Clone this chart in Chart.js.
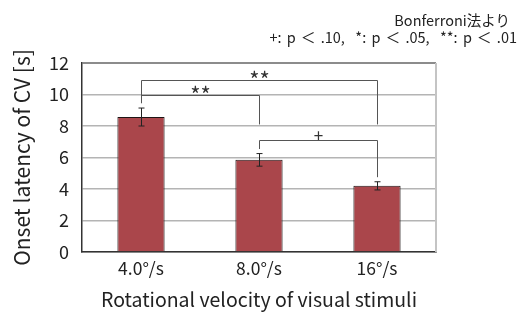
<!DOCTYPE html>
<html>
<head>
<meta charset="utf-8">
<script src="https://cdn.jsdelivr.net/npm/chart.js@4.4.1/dist/chart.umd.min.js"></script>
<style>
  html, body { margin: 0; padding: 0; background: #fff; }
  #wrap { position: relative; width: 526px; height: 315px; }
  .note { position: absolute; font-family: "Noto Sans CJK JP", "Noto Sans", sans-serif; font-size: 14.5px; color: #222; white-space: nowrap; }
</style>
</head>
<body>
<div id="wrap">
  <canvas id="c" width="526" height="315"></canvas>
  <div class="note" style="right:16px; top:9px;">Bonferroni法より</div>
  <div class="note" style="right:9px; top:26px; word-spacing:2px;">+: p ＜ .10,&nbsp; *: p ＜ .05,&nbsp; **: p ＜ .01</div>
</div>
<script>
// === DATA ===
const labels = ['4.0°/s', '8.0°/s', '16°/s'];
const means = [8.57, 5.85, 4.2];
const errors = [0.57, 0.4, 0.26];
const yTicks = [0, 2, 4, 6, 8, 10, 12];

// brackets: [from, to, level, leftEnd, rightEnd, mark]
const brackets = [
  [0, 2, 10.92, 9.45, 8.1, '**'],
  [0, 1, 9.97, 9.45, 8.1, '**'],
  [1, 2, 7.11, 6.54, 4.75, '+']
];

const font = '"Noto Sans CJK JP", "Noto Sans", sans-serif';

// error bars
const errorBars = {
  id: 'errorBars',
  afterDatasetsDraw(chart) {
    const { ctx, scales: { x, y } } = chart;
    ctx.save();
    ctx.strokeStyle = '#222';
    ctx.lineWidth = 1;
    means.forEach((m, i) => {
      const px = Math.round(x.getPixelForValue(i)) + 0.5;
      const top = y.getPixelForValue(m + errors[i]);
      const bot = y.getPixelForValue(m - errors[i]);
      ctx.beginPath();
      ctx.moveTo(px, top); ctx.lineTo(px, bot);
      ctx.moveTo(px - 3, top); ctx.lineTo(px + 3, top);
      ctx.moveTo(px - 3, bot); ctx.lineTo(px + 3, bot);
      ctx.stroke();
    });
    ctx.restore();
  }
};

// significance brackets
const sigBrackets = {
  id: 'sigBrackets',
  afterDatasetsDraw(chart) {
    const { ctx, scales: { x, y } } = chart;
    ctx.save();
    ctx.strokeStyle = '#555';
    ctx.lineWidth = 1;
    ctx.fillStyle = '#333';
    ctx.textAlign = 'center';
    ctx.textBaseline = 'middle';
    brackets.forEach(([a, b, lvl, le, re, mark]) => {
      const x1 = Math.round(x.getPixelForValue(a)) + 0.5;
      const x2 = Math.round(x.getPixelForValue(b)) + 0.5;
      const yl = Math.round(y.getPixelForValue(lvl)) + 0.5;
      ctx.beginPath();
      ctx.moveTo(x1, y.getPixelForValue(le));
      ctx.lineTo(x1, yl);
      ctx.lineTo(x2, yl);
      ctx.lineTo(x2, y.getPixelForValue(re));
      ctx.stroke();
      if (mark === '+') {
        ctx.font = '17px ' + font;
        ctx.fillText(mark, (x1 + x2) / 2, yl - 5);
      } else {
        ctx.font = '22px ' + font;
        ctx.fillText(mark, (x1 + x2) / 2, yl - 1);
      }
    });
    ctx.restore();
  }
};

new Chart(document.getElementById('c'), {
  type: 'bar',
  data: {
    labels,
    datasets: [{
      data: means,
      backgroundColor: '#aa464b',
      borderColor: '#1e1414',
      borderWidth: 1,
      borderSkipped: 'bottom',
      barPercentage: 0.4,
      categoryPercentage: 1.0
    }]
  },
  options: {
    responsive: false,
    animation: false,
    layout: { padding: { top: 63, right: 90, left: 0, bottom: 0 } },
    plugins: { legend: { display: false }, tooltip: { enabled: false } },
    scales: {
      x: {
        grid: { display: false, drawTicks: false },
        border: { color: '#333', width: 1.5 },
        ticks: { color: '#222', font: { family: font, size: 17.5 }, padding: 6 },
        title: { display: true, text: 'Rotational velocity of visual stimuli', color: '#222', font: { family: font, size: 19.5 }, padding: { top: 10 } },
        afterFit: s => { s.height = 63; }
      },
      y: {
        min: 0, max: 12,
        afterBuildTicks: s => { s.ticks = yTicks.map(v => ({ value: v })); },
        grid: {
          color: ctx => ctx.tick && ctx.tick.value === 12 ? '#8c8c8c' : '#b4b4b4',
          lineWidth: ctx => ctx.tick && ctx.tick.value === 12 ? 2 : 1.5,
          drawTicks: false
        },
        border: { color: '#333', width: 1.5 },
        ticks: { color: '#222', font: { family: font, size: 18 }, padding: 13 },
        title: { display: true, text: 'Onset latency of CV [s]', color: '#222', font: { family: font, size: 21 }, padding: { top: 9, bottom: 0 } },
        afterFit: s => { s.width = 82; }
      }
    }
  },
  plugins: [errorBars, sigBrackets, {
    id: 'rightEdge',
    afterDraw(chart) {
      const { ctx, chartArea: a } = chart;
      ctx.save();
      ctx.strokeStyle = '#c4c4c4';
      ctx.lineWidth = 2;
      ctx.beginPath();
      ctx.moveTo(a.right, a.top); ctx.lineTo(a.right, a.bottom);
      ctx.stroke();
      ctx.restore();
    }
  }]
});
</script>
</body>
</html>
